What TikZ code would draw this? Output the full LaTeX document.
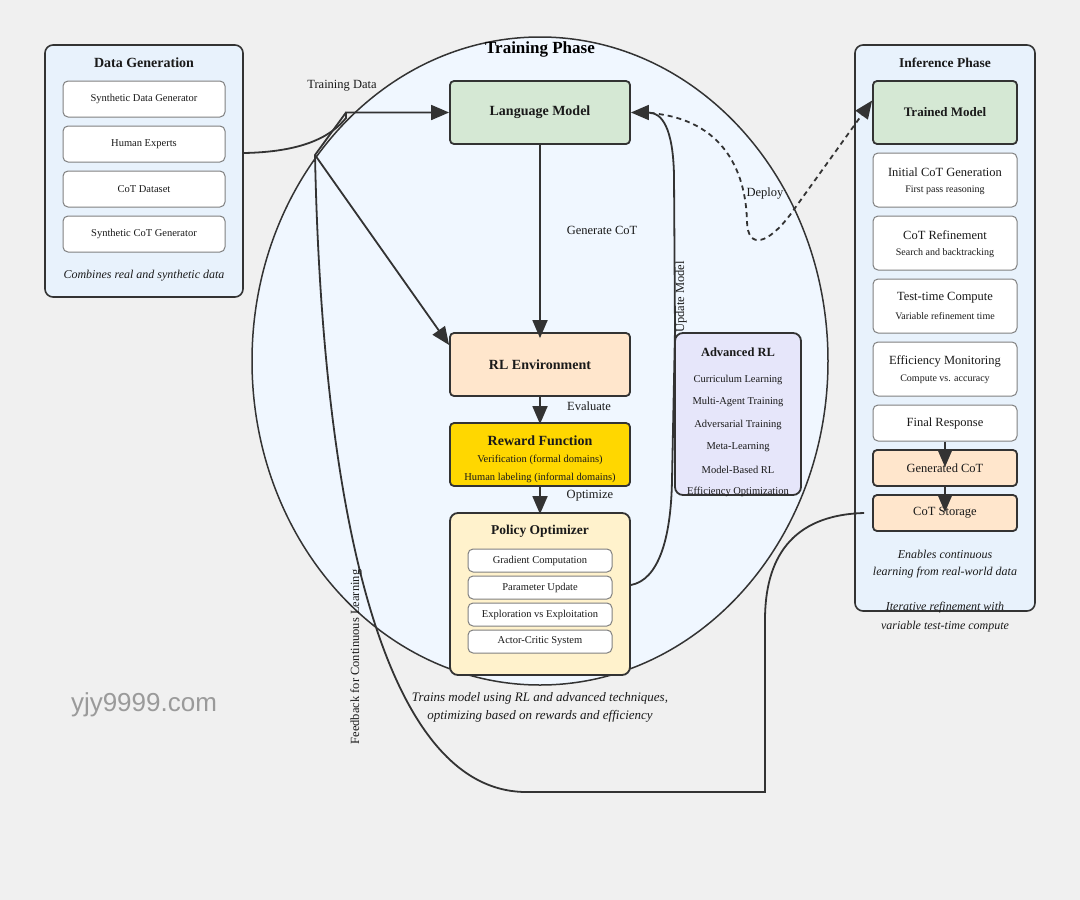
\documentclass[tikz,border=0pt]{standalone}
\usepackage{fontspec}
\setmainfont{Liberation Serif}
\newfontfamily\wmfont{Liberation Sans}
\usetikzlibrary{arrows.meta}
\definecolor{bgc}{HTML}{F0F0F0}
\definecolor{panelc}{HTML}{E8F2FC}
\definecolor{ellc}{HTML}{F0F7FF}
\definecolor{linec}{HTML}{333333}
\definecolor{greenc}{HTML}{D5E8D4}
\definecolor{peachc}{HTML}{FFE6CC}
\definecolor{goldc}{HTML}{FFD700}
\definecolor{yelc}{HTML}{FFF2CC}
\definecolor{lavc}{HTML}{E6E6FA}
\definecolor{subc}{HTML}{808080}
\definecolor{txtc}{HTML}{1A1A1A}
\definecolor{wmc}{HTML}{9A9A9A}
\newcommand{\myfs}[1]{\fontsize{#1}{#1}\selectfont}
\begin{document}
\begin{tikzpicture}[x=1pt,y=-1pt,
  panel/.style={draw=linec,line width=1.6pt,fill=panelc,rounded corners=8pt,inner sep=0pt},
  box/.style={draw=linec,line width=1.8pt,rounded corners=4pt,inner sep=0pt,align=center,text=txtc},
  sub/.style={draw=subc,line width=1pt,fill=white,rounded corners=5pt,inner sep=0pt,align=center,text=txtc},
  ttl/.style={text=txtc,inner sep=0pt,font=\myfs{14}\bfseries},
  txt/.style={text=txtc,inner sep=0pt,font=\myfs{10.5}},
  itx/.style={text=txtc,inner sep=0pt,font=\myfs{12}\itshape},
  lbl/.style={text=txtc,inner sep=1pt,font=\myfs{12.5}},
  edge/.style={draw=linec,line width=1.8pt,-{Triangle[length=18pt,width=15pt]}},
  plain/.style={draw=linec,line width=1.8pt}]
\path[use as bounding box, fill=bgc] (0,0) rectangle (1080,900);

% Training phase ellipse
\draw[draw=linec,line width=1.5pt,fill=ellc] (540,361) ellipse [x radius=288, y radius=324];
\node[text=black,inner sep=0pt,font=\myfs{17}\bfseries] (tpt) at (540,49) {Training Phase};

% Data generation
\node[panel,minimum width=198pt,minimum height=252pt] (dg) at (144,171) {};
\node[ttl] (dgt) at (144,63) {Data Generation};
\node[sub,minimum width=162pt,minimum height=36pt,font=\myfs{10.5}] (d1) at (144,99) {Synthetic Data Generator};
\node[sub,minimum width=162pt,minimum height=36pt,font=\myfs{10.5}] (d2) at (144,144) {Human Experts};
\node[sub,minimum width=162pt,minimum height=36pt,font=\myfs{10.5}] (d3) at (144,189) {CoT Dataset};
\node[sub,minimum width=162pt,minimum height=36pt,font=\myfs{10.5}] (d4) at (144,234) {Synthetic CoT Generator};
\node[itx] (dgc) at (144,276) {Combines real and synthetic data};

% Training nodes
\node[box,fill=greenc,minimum width=180pt,minimum height=63pt,font=\myfs{14}\bfseries] (lm) at (540,112.5) {Language Model};
\node[box,fill=peachc,minimum width=180pt,minimum height=63pt,font=\myfs{14}\bfseries] (rl) at (540,364.5) {RL Environment};
\node[box,fill=goldc,minimum width=180pt,minimum height=63pt] (rf) at (540,454.5) {};
\node[ttl] (rft) at (540,441) {Reward Function};
\node[txt] (rf1) at (540,460) {Verification (formal domains)};
\node[txt] (rf2) at (540,478) {Human labeling (informal domains)};

\node[box,fill=yelc,rounded corners=8pt,minimum width=180pt,minimum height=162pt] (po) at (540,594) {};
\node[ttl,font=\myfs{13.5}\bfseries] (pot) at (540,531) {Policy Optimizer};
\node[sub,minimum width=144pt,minimum height=23pt,font=\myfs{10.5}] (p1) at (540,560.5) {Gradient Computation};
\node[sub,minimum width=144pt,minimum height=23pt,font=\myfs{10.5}] (p2) at (540,587.5) {Parameter Update};
\node[sub,minimum width=144pt,minimum height=23pt,font=\myfs{10.5}] (p3) at (540,614.5) {Exploration vs Exploitation};
\node[sub,minimum width=144pt,minimum height=23pt,font=\myfs{10.5}] (p4) at (540,641.5) {Actor-Critic System};

\node[box,fill=lavc,rounded corners=8pt,minimum width=126pt,minimum height=162pt] (ar) at (738,414) {};
\node[ttl,font=\myfs{12.5}\bfseries] (art) at (738,352) {Advanced RL};
\node[txt] (a1) at (738,379.5) {Curriculum Learning};
\node[txt] (a2) at (738,402) {Multi-Agent Training};
\node[txt] (a3) at (738,424.5) {Adversarial Training};
\node[txt] (a4) at (738,447) {Meta-Learning};
\node[txt] (a5) at (738,469.5) {Model-Based RL};
\node[txt] (a6) at (738,492) {Efficiency Optimization};

\node[itx,font=\myfs{13}\itshape] (cap1) at (540,698) {Trains model using RL and advanced techniques,};
\node[itx,font=\myfs{13}\itshape] (cap2) at (540,716) {optimizing based on rewards and efficiency};

% Inference phase
\node[panel,minimum width=180pt,minimum height=566pt] (inf) at (945,328) {};
\node[ttl,font=\myfs{13.5}\bfseries] (inft) at (945,63) {Inference Phase};
\node[box,fill=greenc,minimum width=144pt,minimum height=63pt,font=\myfs{13}\bfseries] (tm) at (945,112.5) {Trained Model};
\node[sub,minimum width=144pt,minimum height=54pt] (i1) at (945,180) {};
\node[txt,font=\myfs{12.5}] (i1a) at (945,172) {Initial CoT Generation};
\node[txt,font=\myfs{10}] (i1b) at (945,190.5) {First pass reasoning};
\node[sub,minimum width=144pt,minimum height=54pt] (i2) at (945,243) {};
\node[txt,font=\myfs{12.5}] (i2a) at (945,235) {CoT Refinement};
\node[txt,font=\myfs{10}] (i2b) at (945,253.5) {Search and backtracking};
\node[sub,minimum width=144pt,minimum height=54pt] (i3) at (945,306) {};
\node[txt,font=\myfs{12.5}] (i3a) at (945,298) {Test-time Compute};
\node[txt,font=\myfs{10}] (i3b) at (945,316.5) {Variable refinement time};
\node[sub,minimum width=144pt,minimum height=54pt] (i4) at (945,369) {};
\node[txt,font=\myfs{12.5}] (i4a) at (945,361) {Efficiency Monitoring};
\node[txt,font=\myfs{10}] (i4b) at (945,379.5) {Compute vs. accuracy};
\node[sub,minimum width=144pt,minimum height=36pt,font=\myfs{12.5}] (fr) at (945,423) {Final Response};
\node[box,fill=peachc,minimum width=144pt,minimum height=36pt,font=\myfs{12.5}] (gc) at (945,468) {Generated CoT};
\node[box,fill=peachc,minimum width=144pt,minimum height=36pt,font=\myfs{12.5}] (cs) at (945,513) {CoT Storage};
\node[itx] (ie1) at (945,554) {Enables continuous};
\node[itx] (ie2) at (945,572.5) {learning from real-world data};
\node[itx] (ir1) at (945,608) {Iterative refinement with};
\node[itx] (ir2) at (945,627) {variable test-time compute};

% watermark
\node[text=wmc,inner sep=0pt,font=\wmfont\myfs{26}] (wm) at (144,705) {yjy9999.com};

% junction coordinates
\coordinate (j) at (315,155);
\coordinate (k) at (346,112.5);

% Edges
\draw[edge] ([yshift=18pt]dg.east) .. controls (300,152) and (330,138) .. (346,118) -- (k) -- (lm.west);
\node[lbl] (tdl) at (342,86) {Training Data};
\draw[edge] (j) -- ([yshift=19.5pt]rl.west);
\draw[plain] ([xshift=-8pt]cs.west) .. controls (790,515) and (765,560) .. (765,620) -- (765,792) -- (525,792)
  .. controls (380,790) and (322,500) .. (j) -- (k);
\node[lbl,rotate=90] (fbl) at (356,657) {Feedback for Continuous Learning};

\draw[edge] (lm.south) -- ([yshift=-6pt]rl.north);
\node[lbl] (gcl) at (602,230) {Generate CoT};
\draw[edge] (rl.south) -- ([yshift=-2pt]rf.north);
\node[lbl] (evl) at (589,406) {Evaluate};
\draw[edge] (rf.south) -- ([yshift=-2pt]po.north);
\node[lbl] (opl) at (590,496) {Optimize};

\draw[edge] ([yshift=9pt]po.east) .. controls (658,580) and (671,540) .. (672,480) -- (675,330) -- (674,175)
  .. controls (673,128) and (662,112.5) .. (lm.east);
\node[lbl,rotate=90] (uml) at (681,297) {Update Model};

\draw[edge,dash pattern=on 5pt off 4pt] ([xshift=10pt]lm.east) .. controls (722,115) and (746,170) .. (747,222)
  .. controls (748,250) and (768,244) .. (790,215) -- ([yshift=12pt]tm.west);
\node[lbl] (dpl) at (765,194) {Deploy};

\draw[edge] (fr.south) -- ([yshift=-18pt]gc.north);
\draw[edge] (gc.south) -- ([yshift=-18pt]cs.north);
\end{tikzpicture}
\end{document}
